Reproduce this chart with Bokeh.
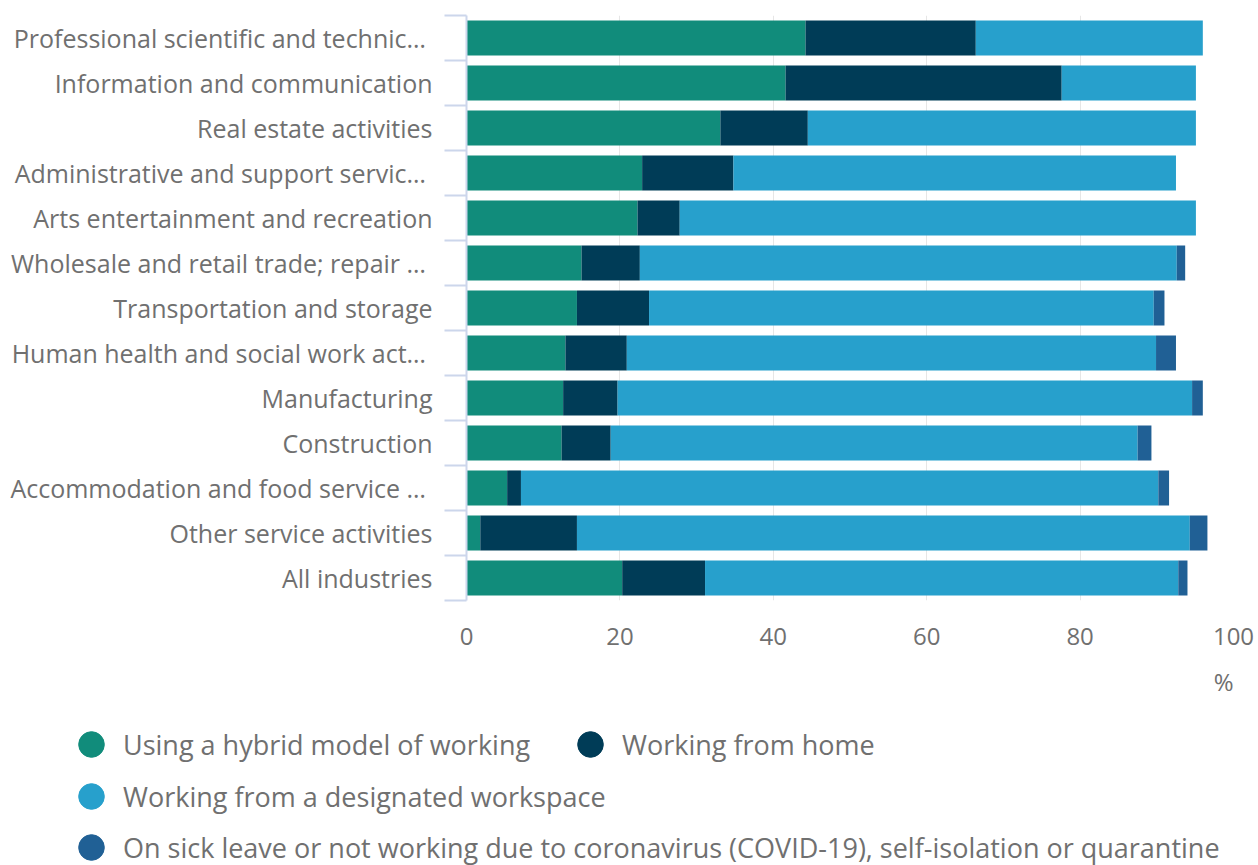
from bokeh.plotting import figure
from bokeh.layouts import column
from bokeh.models import Range1d, FixedTicker, Legend, LegendItem, Title, ColumnDataSource
from bokeh.embed import file_html
from bokeh.resources import INLINE

# ---- data (top to bottom) ----
industries = [
    "Professional scientific and technic\u2026\u00a0",
    "Information and communication",
    "Real estate activities",
    "Administrative and support servic\u2026\u00a0",
    "Arts entertainment and recreation",
    "Wholesale and retail trade; repair \u2026\u00a0",
    "Transportation and storage",
    "Human health and social work act\u2026\u00a0",
    "Manufacturing",
    "Construction",
    "Accommodation and food service \u2026\u00a0",
    "Other service activities",
    "All industries",
]
hybrid = [44.2, 41.6, 33.1, 22.9, 22.3, 15.0, 14.4, 12.9, 12.6, 12.4, 5.3, 1.8, 20.3]
home = [22.2, 36.0, 11.4, 11.9, 5.5, 7.6, 9.4, 8.0, 7.1, 6.4, 1.8, 12.6, 10.8]
workspace = [29.6, 17.5, 50.6, 57.7, 67.3, 70.0, 65.8, 69.0, 74.9, 68.7, 83.1, 79.9, 61.7]
sick = [0.0, 0.0, 0.0, 0.0, 0.0, 1.1, 1.4, 2.6, 1.4, 1.8, 1.4, 2.3, 1.2]

series_keys = ["hybrid", "home", "workspace", "sick"]
series_labels = [
    "Using a hybrid model of working",
    "Working from home",
    "Working from a designated workspace",
    "On sick leave or not working due to coronavirus (COVID-19), self-isolation or quarantine",
]
colors = ["#118c7b", "#003c57", "#27a0cc", "#206095"]
x_ticks = [0, 20, 40, 60, 80, 100]
x_unit = "%"

FONT = "Open Sans"
TXT = "#707070"

n = len(industries)
ypos = [n - i - 0.5 for i in range(n)]
source = ColumnDataSource(dict(y=ypos, hybrid=hybrid, home=home, workspace=workspace, sick=sick))

p = figure(width=1258, height=725, x_range=Range1d(0, 100), y_range=Range1d(0, n),
           output_backend="svg", toolbar_location=None,
           min_border_left=466, min_border_right=25, min_border_top=15, min_border_bottom=125)
p.outline_line_color = None
p.frame_align = False

p.hbar_stack(series_keys, y="y", height=0.78, color=colors, source=source, line_color=None)

# y axis
ya = p.yaxis[0]
ya.ticker = FixedTicker(ticks=ypos, minor_ticks=list(range(n + 1)))
ya.major_label_overrides = {y: name for y, name in zip(ypos, industries)}
ya.major_tick_line_color = None
ya.major_tick_out = 0
ya.major_tick_in = 0
ya.minor_tick_line_color = "#ccd6eb"
ya.minor_tick_line_width = 2
ya.minor_tick_out = 22
ya.minor_tick_in = 0
ya.axis_line_color = "#ccd6eb"
ya.axis_line_width = 2
ya.major_label_standoff = 12
ya.major_label_text_font = FONT
ya.major_label_text_font_size = "25px"
ya.major_label_text_color = TXT
p.ygrid.visible = False

# x axis
xa = p.xaxis[0]
xa.ticker = FixedTicker(ticks=x_ticks)
xa.axis_line_color = None
xa.major_tick_line_color = None
xa.minor_tick_line_color = None
xa.major_tick_out = 0
xa.major_label_standoff = 27
xa.major_label_text_font = FONT
xa.major_label_text_font_size = "24px"
xa.major_label_text_color = TXT
p.xgrid.ticker = FixedTicker(ticks=x_ticks)
p.xgrid.grid_line_color = "#e6e6e6"
p.xgrid.grid_line_width = 1

p.add_layout(Title(text=x_unit, align="right", text_font=FONT, text_font_size="24px",
                   text_color=TXT, text_font_style="normal", standoff=30), "below")

# ---- legend panel ----
lp = figure(width=1258, height=140, x_range=Range1d(0, 1), y_range=Range1d(0, 1),
            output_backend="svg", toolbar_location=None,
            x_axis_location=None, y_axis_location=None,
            min_border_left=0, min_border_right=0, min_border_top=0, min_border_bottom=0)
lp.outline_line_color = None
lp.frame_align = False
lp.xgrid.visible = False
lp.ygrid.visible = False
nan = float("nan")
dots = [lp.scatter(x=[nan], y=[nan], marker="circle", color=c) for c in colors]

legend_slots = [(59, 87), (558, 87), (59, 35), (59, -16)]
for i, loc in enumerate(legend_slots):
    leg = Legend(items=[LegendItem(label=series_labels[i], renderers=[dots[i]])],
                 location=loc, padding=0, margin=0, label_standoff=0,
                 glyph_width=64, glyph_height=68, border_line_color=None,
                 background_fill_alpha=0, label_text_font=FONT, label_text_font_size="27px",
                 label_text_color=TXT)
    lp.add_layout(leg, "center")

open("out.html", "w").write(file_html(column(p, lp), INLINE))
